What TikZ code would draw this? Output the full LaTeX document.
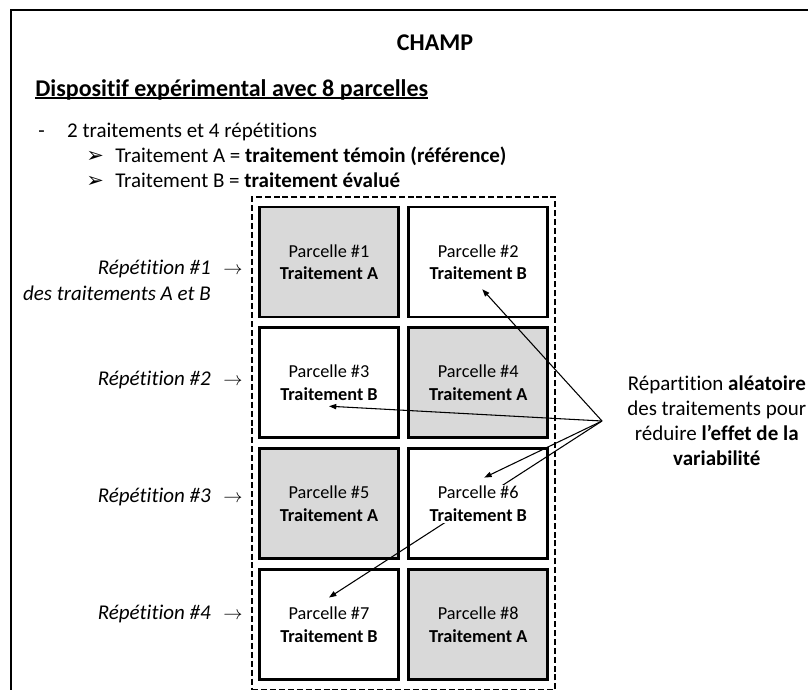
\documentclass[tikz,border=0pt]{standalone}
\usepackage{fontspec}
\setmainfont{Carlito}[Ligatures={TeX,NoCommon}]
\newfontfamily\symfont{DejaVu Sans}
\usetikzlibrary{arrows.meta,positioning,fit,backgrounds,calc}
\pgfdeclarelayer{links}
\pgfsetlayers{background,links,main}
\newcommand{\souligne}[1]{{\setbox0=\hbox{#1}\rlap{\rule[-2.2pt]{\wd0}{1.1pt}}\box0}}

\begin{document}
\begin{tikzpicture}[x=0.75pt, y=-0.75pt,
  outer/.style={draw=black, line width=1.6pt},
  ttl/.style={font=\fontsize{18}{21.6}\selectfont\bfseries, inner sep=0pt},
  lst/.style={font=\fontsize{15.75}{19}\selectfont, inner sep=0pt},
  rep/.style={inner sep=0pt, align=right, font=\fontsize{15.75}{19.5}\selectfont\itshape},
  note/.style={inner sep=0pt, align=center, font=\fontsize{15.75}{18.75}\selectfont},
  cell/.style={draw=black, line width=2.2pt, minimum width=104.25pt, minimum height=82.5pt, fill=white},
  cellA/.style={cell, fill=black!15},
  txt/.style={align=center, inner sep=1pt, fill=white, font=\fontsize{13.7}{16.9}\selectfont},
  txtA/.style={txt, fill=black!15},
  grp/.style={draw=black, line width=1.5pt, dash pattern=on 4.5pt off 2.2pt, inner xsep=4.5pt, inner ysep=6.5pt},
  ar/.style={-{Triangle[length=5.5pt,width=4pt]}, line width=0.8pt}]
\useasboundingbox (0,0) rectangle (808,690);
\draw[outer] (11,10) rectangle (840,720);
% titres
\node[ttl] (champ) at (435,43) {CHAMP};
\node[ttl, anchor=base west] (dispo) at (35,96) {\souligne{Dispositif expérimental avec 8 parcelles}};
\node[lst, anchor=base west] (l0) at (38,137) {\makebox[21.75pt][l]{-}2 traitements et 4 répétitions};
\node[lst, anchor=base west] (l1) at (86,162) {\makebox[21.75pt][l]{\symfont ➢}Traitement A = \textbf{traitement témoin (référence)}};
\node[lst, anchor=base west] (l2) at (86,187) {\makebox[21.75pt][l]{\symfont ➢}Traitement B = \textbf{traitement évalué}};
% parcelles
\begin{scope}[on background layer]
\node[cellA] (c1) at (329,262) {};
\node[cell, right=5.5pt of c1] (c2) {};
\node[cell, below=6pt of c1] (c3) {};
\node[cellA, right=5.5pt of c3] (c4) {};
\node[cellA, below=6pt of c3] (c5) {};
\node[cell, right=5.5pt of c5] (c6) {};
\node[cell, below=6pt of c5] (c7) {};
\node[cellA, right=5.5pt of c7] (c8) {};
\node[grp, fit=(c1)(c2)(c7)(c8)] (G) {};
\end{scope}
\node[txtA] (t1) at (c1) {Parcelle \#1\\\textbf{Traitement A}};
\node[txt] (t2) at (c2) {Parcelle \#2\\\textbf{Traitement B}};
\node[txt] (t3) at (c3) {Parcelle \#3\\\textbf{Traitement B}};
\node[txtA] (t4) at (c4) {Parcelle \#4\\\textbf{Traitement A}};
\node[txtA] (t5) at (c5) {Parcelle \#5\\\textbf{Traitement A}};
\node[txt] (t6) at (c6) {Parcelle \#6\\\textbf{Traitement B}};
\node[txt] (t7) at (c7) {Parcelle \#7\\\textbf{Traitement B}};
\node[txtA] (t8) at (c8) {Parcelle \#8\\\textbf{Traitement A}};
% repetitions
\node[rep, left=35.25pt of c1, yshift=-13.5pt] (r1) {Répétition \#1\rlap{\hspace{0.6em}$\rightarrow$}\\des traitements A et B};
\node[rep, left=35.25pt of c3, yshift=1.9pt] (r2) {Répétition \#2\rlap{\hspace{0.6em}$\rightarrow$}};
\node[rep, left=35.25pt of c5, yshift=4.9pt] (r3) {Répétition \#3\rlap{\hspace{0.6em}$\rightarrow$}};
\node[rep, left=35.25pt of c7, yshift=8.25pt] (r4) {Répétition \#4\rlap{\hspace{0.6em}$\rightarrow$}};
% repartition aleatoire
\coordinate (hub) at (602,421);
\node[note, right=18.75pt of hub] (expl) {Répartition \textbf{aléatoire}\\des traitements pour\\réduire \textbf{l’effet de la}\\\textbf{variabilité}};
\begin{pgfonlayer}{links}
\draw[ar] (hub) -- ([shift={(4,8)}]t2.south);
\draw[ar] (hub) -- ([shift={(0,4)}]t3.south);
\draw[ar] (hub) -- ([shift={(6,-7)}]t6.north);
\draw[ar] (hub) -- ([shift={(0,-8)}]t7.north);
\end{pgfonlayer}
\end{tikzpicture}
\end{document}
